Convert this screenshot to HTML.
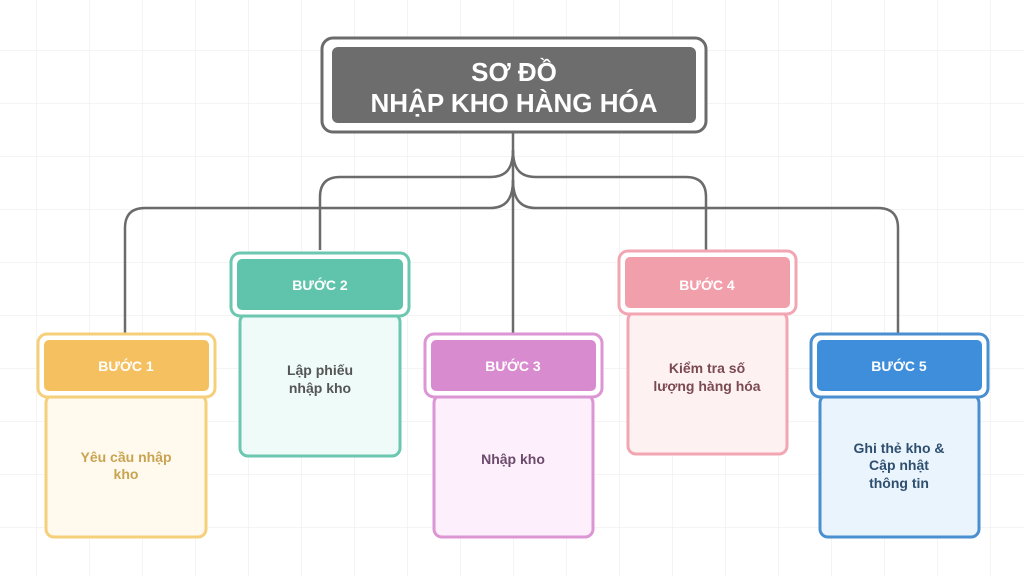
<!DOCTYPE html>
<html><head><meta charset="utf-8"><style>
html,body{margin:0;padding:0;background:#fff}
svg{display:block}
text{font-family:"Liberation Sans","DejaVu Sans",sans-serif;font-weight:bold;text-anchor:middle}
</style></head><body>
<svg width="1024" height="576" viewBox="0 0 1024 576" xmlns="http://www.w3.org/2000/svg">
<defs>
<pattern id="g" x="36" y="50" width="53" height="53" patternUnits="userSpaceOnUse">
<path d="M0 0H53M0 0V53" stroke="#f0f0f0" stroke-width="1.5" fill="none"/>
</pattern>
</defs>
<rect width="1024" height="576" fill="#fff"/>
<rect width="1024" height="576" fill="url(#g)"/>

<g stroke="#6b6b6b" stroke-width="2.5" fill="none">
<path d="M513 132V333"/>
<path d="M513 150C513 170 505 177 490 177H340Q320 177 320 197V250"/>
<path d="M513 150C513 170 521 177 536 177H686Q706 177 706 197V250"/>
<path d="M513 180C513 200 505 208 490 208H145Q125 208 125 228V333"/>
<path d="M513 180C513 200 521 208 536 208H878Q898 208 898 228V333"/>
</g>

<rect x="322" y="38" width="384" height="94" rx="11" fill="#fff" stroke="#6b6b6b" stroke-width="3"/>
<rect x="332" y="47" width="364" height="76" rx="6" fill="#6d6d6d"/>
<text x="514" y="81" font-size="26" fill="#fff">SƠ ĐỒ</text>
<text x="514" y="112" font-size="26" fill="#fff">NHẬP KHO HÀNG HÓA</text>

<rect x="46" y="395" width="160" height="142" rx="8" fill="#fff9ee" stroke="#f6cf7a" stroke-width="3"/>
<rect x="38" y="334" width="177" height="63" rx="9" fill="#fff" stroke="#f6cf7a" stroke-width="3"/>
<rect x="44" y="340" width="165" height="51" rx="5" fill="#f5c060"/>
<text x="126" y="371" font-size="14" fill="#fff">BƯỚC 1</text>
<text x="126" y="462" font-size="14" fill="#c9a450">Yêu cầu nhập</text>
<text x="126" y="479" font-size="14" fill="#c9a450">kho</text>

<rect x="240" y="314" width="160" height="142" rx="8" fill="#effbf8" stroke="#6cc7b0" stroke-width="3"/>
<rect x="231" y="253" width="178" height="63" rx="9" fill="#fff" stroke="#6cc7b0" stroke-width="3"/>
<rect x="237" y="259" width="166" height="51" rx="5" fill="#5fc4ab"/>
<text x="320" y="290" font-size="14" fill="#fff">BƯỚC 2</text>
<text x="320" y="375" font-size="14" fill="#555">Lập phiếu</text>
<text x="320" y="393" font-size="14" fill="#555">nhập kho</text>

<rect x="434" y="395" width="159" height="142" rx="8" fill="#fdf0fc" stroke="#dc96d4" stroke-width="3"/>
<rect x="425" y="334" width="177" height="63" rx="9" fill="#fff" stroke="#dc96d4" stroke-width="3"/>
<rect x="431" y="340" width="165" height="51" rx="5" fill="#d98bd0"/>
<text x="513" y="371" font-size="14" fill="#fff">BƯỚC 3</text>
<text x="513" y="464" font-size="14" fill="#6b4a6b">Nhập kho</text>

<rect x="628" y="312" width="159" height="142" rx="8" fill="#fdf1f2" stroke="#f2a6b2" stroke-width="3"/>
<rect x="619" y="251" width="177" height="63" rx="9" fill="#fff" stroke="#f2a6b2" stroke-width="3"/>
<rect x="625" y="257" width="165" height="51" rx="5" fill="#f29fac"/>
<text x="707" y="290" font-size="14" fill="#fff">BƯỚC 4</text>
<text x="707" y="373" font-size="14" fill="#7a4a50">Kiểm tra số</text>
<text x="707" y="391" font-size="14" fill="#7a4a50">lượng hàng hóa</text>

<rect x="820" y="395" width="159" height="142" rx="8" fill="#eaf4fd" stroke="#4a8fd0" stroke-width="3"/>
<rect x="811" y="334" width="177" height="63" rx="9" fill="#fff" stroke="#4a8fd0" stroke-width="3"/>
<rect x="817" y="340" width="165" height="51" rx="5" fill="#3f8edb"/>
<text x="899" y="371" font-size="14" fill="#fff">BƯỚC 5</text>
<text x="899" y="453" font-size="14" fill="#2f4f6f">Ghi thẻ kho &amp;</text>
<text x="899" y="470" font-size="14" fill="#2f4f6f">Cập nhật</text>
<text x="899" y="488" font-size="14" fill="#2f4f6f">thông tin</text>
</svg>
</body></html>
